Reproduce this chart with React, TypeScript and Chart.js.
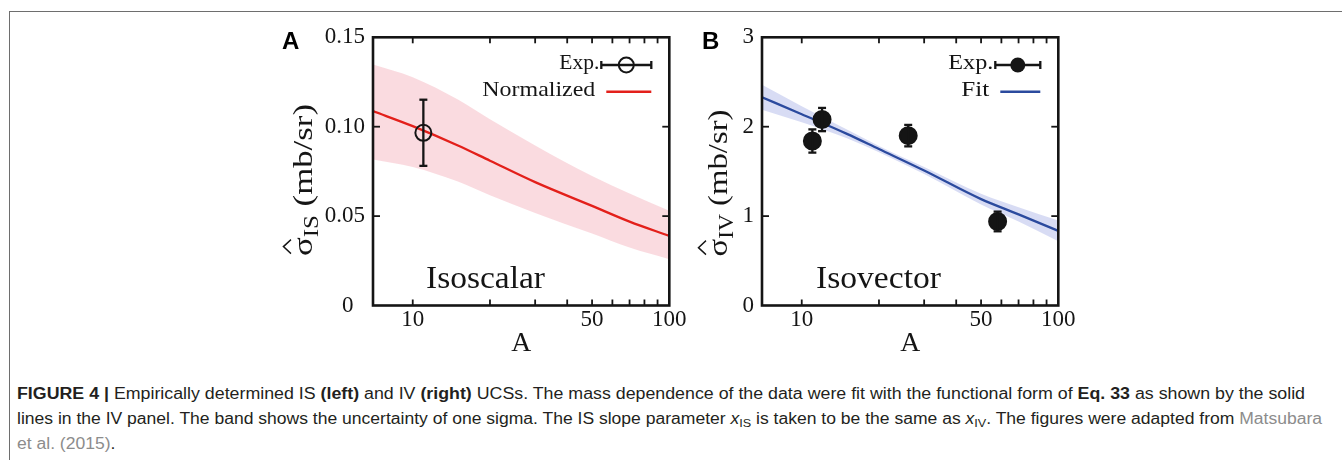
import React, { useEffect, useRef } from 'react';
import { Chart, registerables } from 'chart.js';

Chart.register(...registerables);

// ---------- shared axis data ----------
const A_MIN = 7;
const A_MAX = 100;
const xTickValues = [10, 20, 30, 40, 50, 60, 70, 80, 90, 100];
const xTickLabels = ['10', '', '', '', '50', '', '', '', '', '100'];

// ---------- Panel A : isoscalar ----------
const isExpA = [11];
const isExpValue = [0.0966];
const isExpError = [0.0185];
const isCurveA = [7, 10, 15, 20, 30, 50, 70, 100];
const isCurveValue = [0.1087, 0.1003, 0.0895, 0.081, 0.069, 0.0557, 0.0469, 0.0389];
const isBandUpper = [0.1348, 0.1277, 0.1152, 0.1042, 0.0895, 0.0724, 0.0627, 0.053];
const isBandLower = [0.0817, 0.0775, 0.0693, 0.0616, 0.0518, 0.0402, 0.0324, 0.0259];
const isYTicks = [0, 0.05, 0.1, 0.15];
const isYTickLabels = ['0\u2002', '0.05', '0.10', '0.15'];

// ---------- Panel B : isovector ----------
const ivExpA = [11, 12, 26, 58];
const ivExpValue = [1.84, 2.08, 1.9, 0.94];
const ivExpError = [0.13, 0.13, 0.12, 0.11];
const ivCurveA = [7, 10, 15, 20, 30, 50, 70, 100];
const ivCurveValue = [2.33, 2.14, 1.92, 1.75, 1.51, 1.19, 1.02, 0.835];
const ivBandUpper = [2.47, 2.23, 1.97, 1.785, 1.55, 1.25, 1.1, 0.95];
const ivBandLower = [2.19, 2.05, 1.87, 1.715, 1.47, 1.13, 0.94, 0.72];
const ivYTicks = [0, 1, 2, 3];
const ivYTickLabels = ['0', '1', '2', '3'];

const SERIF = "'Liberation Serif', 'Times New Roman', serif";
const SANS = "'Liberation Sans', Arial, Helvetica, sans-serif";
const INK = '#151515';

const panelA = {
  letter: 'A', letterX: 19, letterY: 35,
  label: 'Isoscalar', labelX: 163, labelY: 274, labelWidth: 119,
  ySub: 'IS', yTitleX: 49, yTitleY: 166, yTitleLength: 152,
  yMax: 0.15, yTicks: isYTicks, yTickLabels: isYTickLabels,
  expA: isExpA, expValue: isExpValue, expError: isExpError,
  curveA: isCurveA, curveValue: isCurveValue, bandUpper: isBandUpper, bandLower: isBandLower,
  filled: false, pointRadius: 8,
  lineColor: '#e3201b', bandColor: 'rgba(244, 176, 186, 0.45)',
  legendExp: 'Exp.', legendExpWidth: 40, legendLine: 'Normalized', legendLineWidth: 113, legendSymbol: 50,
};

const panelB = {
  letter: 'B', letterX: 50, letterY: 35,
  label: 'Isovector', labelX: 164, labelY: 274, labelWidth: 125,
  ySub: 'IV', yTitleX: 75, yTitleY: 169, yTitleLength: 147,
  yMax: 3, yTicks: ivYTicks, yTickLabels: ivYTickLabels,
  expA: ivExpA, expValue: ivExpValue, expError: ivExpError,
  curveA: ivCurveA, curveValue: ivCurveValue, bandUpper: ivBandUpper, bandLower: ivBandLower,
  filled: true, pointRadius: 8.5,
  lineColor: '#2b4a9e', bandColor: 'rgba(190, 196, 236, 0.6)',
  legendExp: 'Exp.', legendExpWidth: 45, legendLine: 'Fit', legendLineWidth: 28, legendSymbol: 45,
};

function drawFit(ctx: any, text: string, x: number, y: number, font: string, align: string, target?: number) {
  ctx.save();
  ctx.font = font;
  const w = ctx.measureText(text).width;
  const sx = target ? target / w : 1;
  ctx.translate(x, y);
  ctx.scale(sx, 1);
  ctx.textAlign = align;
  ctx.textBaseline = 'alphabetic';
  ctx.fillStyle = INK;
  ctx.fillText(text, 0, 0);
  ctx.restore();
}

function line(ctx: any, x1: number, y1: number, x2: number, y2: number) {
  ctx.beginPath();
  ctx.moveTo(x1, y1);
  ctx.lineTo(x2, y2);
  ctx.stroke();
}

function makePlugin(spec: any) {
  return {
    id: 'panelDecor',
    afterDatasetsDraw(chart: any) {
      const { ctx } = chart;
      const xs = chart.scales.x;
      const ys = chart.scales.y;
      ctx.save();
      ctx.strokeStyle = INK;
      ctx.lineWidth = 2.3;
      spec.expA.forEach((a: number, i: number) => {
        const px = xs.getPixelForValue(a);
        const top = ys.getPixelForValue(spec.expValue[i] + spec.expError[i]);
        const bot = ys.getPixelForValue(spec.expValue[i] - spec.expError[i]);
        line(ctx, px, top, px, bot);
        line(ctx, px - 4, top, px + 4, top);
        line(ctx, px - 4, bot, px + 4, bot);
      });
      ctx.restore();
    },
    afterDraw(chart: any) {
      const { ctx, chartArea } = chart;
      const { left: L, right: R, top: T, bottom: B } = chartArea;
      const xs = chart.scales.x;
      const ys = chart.scales.y;
      ctx.save();
      // inward ticks (mirrored)
      ctx.strokeStyle = INK;
      ctx.lineWidth = 1.8;
      xTickValues.forEach((v) => {
        const px = xs.getPixelForValue(v);
        if (px > L + 2 && px < R - 2) {
          line(ctx, px, B, px, B - 6);
          line(ctx, px, T, px, T + 6);
        }
      });
      spec.yTicks.forEach((v: number) => {
        const py = ys.getPixelForValue(v);
        if (py > T + 2 && py < B - 2) {
          line(ctx, L, py, L + 7, py);
          line(ctx, R, py, R - 7, py);
        }
      });
      // frame
      ctx.lineWidth = 2.6;
      ctx.strokeRect(L, T, R - L, B - T);

      // panel letter
      ctx.fillStyle = '#000';
      ctx.font = `bold 24px ${SANS}`;
      ctx.textAlign = 'left';
      ctx.textBaseline = 'alphabetic';
      ctx.fillText(spec.letter, spec.letterX, spec.letterY);

      // in-plot label
      drawFit(ctx, spec.label, spec.labelX, spec.labelY, `32px ${SERIF}`, 'left', spec.labelWidth);

      // x title
      drawFit(ctx, 'A', (L + R) / 2, 337, `27px ${SERIF}`, 'center', 20);

      // y title: hat-sigma with subscript
      const F = 28;
      const mainFont = `${F}px ${SERIF}`;
      const subFont = `${Math.round(F * 0.7)}px ${SERIF}`;
      ctx.font = mainFont;
      const wS = ctx.measureText('σ').width;
      const wR = ctx.measureText(' (mb/sr)').width;
      ctx.font = subFont;
      const wSub = ctx.measureText(spec.ySub).width;
      const total = wS + wSub + wR;
      const sx = spec.yTitleLength / total;
      ctx.save();
      ctx.translate(spec.yTitleX, spec.yTitleY);
      ctx.rotate(-Math.PI / 2);
      ctx.scale(sx, 1);
      const x0 = -total / 2;
      ctx.fillStyle = INK;
      ctx.textAlign = 'left';
      ctx.textBaseline = 'alphabetic';
      ctx.font = mainFont;
      ctx.fillText('σ', x0, 0);
      ctx.font = subFont;
      ctx.fillText(spec.ySub, x0 + wS, F * 0.2);
      ctx.font = mainFont;
      ctx.fillText(' (mb/sr)', x0 + wS + wSub, 0);
      const cx = x0 + wS / 2;
      const hw = 7 / sx;
      ctx.strokeStyle = INK;
      ctx.lineWidth = 1.4;
      ctx.beginPath();
      ctx.moveTo(cx - hw, -21);
      ctx.lineTo(cx, -28.5);
      ctx.lineTo(cx + hw, -21);
      ctx.stroke();
      ctx.restore();

      // legend
      const sx1 = R - 18;
      const sx0 = sx1 - spec.legendSymbol;
      const r1 = T + 27.7;
      const r2 = T + 54.4;
      drawFit(ctx, spec.legendExp, sx0 - 2, r1 + 3.5, `22px ${SERIF}`, 'right', spec.legendExpWidth);
      drawFit(ctx, spec.legendLine, sx0 - 6, r2 + 4.5, `22px ${SERIF}`, 'right', spec.legendLineWidth);
      ctx.strokeStyle = INK;
      ctx.lineWidth = 2.3;
      line(ctx, sx0, r1, sx1, r1);
      line(ctx, sx0, r1 - 4, sx0, r1 + 4);
      line(ctx, sx1, r1 - 4, sx1, r1 + 4);
      const mx = (sx0 + sx1) / 2;
      ctx.beginPath();
      ctx.arc(mx, r1, 7.5, 0, Math.PI * 2);
      if (spec.filled) {
        ctx.fillStyle = INK;
        ctx.fill();
      } else {
        ctx.lineWidth = 2;
        ctx.stroke();
      }
      ctx.strokeStyle = spec.lineColor;
      ctx.lineWidth = 2.6;
      line(ctx, sx0 + 5, r2, sx1, r2);
      ctx.restore();
    },
  };
}

function makeConfig(spec: any) {
  const pts = (xsArr: number[], ysArr: number[]) => xsArr.map((x, i) => ({ x, y: ysArr[i] }));
  return {
    type: 'scatter',
    data: {
      datasets: [
        {
          label: 'Exp.',
          data: pts(spec.expA, spec.expValue),
          showLine: false,
          pointRadius: spec.pointRadius,
          pointHoverRadius: spec.pointRadius,
          pointBorderWidth: 2,
          pointBorderColor: INK,
          pointBackgroundColor: spec.filled ? INK : 'rgba(0,0,0,0)',
          order: 0,
        },
        {
          label: spec.legendLine,
          data: pts(spec.curveA, spec.curveValue),
          showLine: true,
          borderColor: spec.lineColor,
          borderWidth: 2.3,
          pointRadius: 0,
          fill: false,
          cubicInterpolationMode: 'monotone',
          order: 1,
        },
        {
          label: 'band upper',
          data: pts(spec.curveA, spec.bandUpper),
          showLine: true,
          borderColor: 'rgba(0,0,0,0)',
          borderWidth: 0,
          backgroundColor: spec.bandColor,
          pointRadius: 0,
          fill: '+1',
          cubicInterpolationMode: 'monotone',
          order: 2,
        },
        {
          label: 'band lower',
          data: pts(spec.curveA, spec.bandLower),
          showLine: true,
          borderColor: 'rgba(0,0,0,0)',
          borderWidth: 0,
          pointRadius: 0,
          fill: false,
          cubicInterpolationMode: 'monotone',
          order: 3,
        },
      ],
    },
    options: {
      responsive: false,
      animation: false,
      events: [],
      layout: { padding: { top: 23.3, right: 33.7, bottom: 0, left: 0 } },
      plugins: {
        legend: { display: false },
        tooltip: { enabled: false },
        title: { display: false },
      },
      scales: {
        x: {
          type: 'logarithmic',
          min: A_MIN,
          max: A_MAX,
          afterBuildTicks: (s: any) => {
            s.ticks = xTickValues.map((v) => ({ value: v }));
          },
          ticks: {
            autoSkip: false,
            maxRotation: 0,
            minRotation: 0,
            padding: 1,
            color: INK,
            font: { family: SERIF, size: 23 },
            callback: (_v: any, i: number) => xTickLabels[i],
          },
          grid: { display: false, drawTicks: false },
          border: { display: false },
          afterFit: (s: any) => {
            s.height = 64.5;
            s.paddingLeft = 0;
            s.paddingRight = 0;
          },
        },
        y: {
          type: 'linear',
          min: 0,
          max: spec.yMax,
          afterBuildTicks: (s: any) => {
            s.ticks = spec.yTicks.map((v: number) => ({ value: v }));
          },
          ticks: {
            padding: 8,
            color: INK,
            font: { family: SERIF, size: 23 },
            callback: (_v: any, i: number) => spec.yTickLabels[i],
          },
          grid: { display: false, drawTicks: false },
          border: { display: false },
          afterFit: (s: any) => {
            s.width = 110;
            s.paddingTop = 0;
            s.paddingBottom = 0;
          },
        },
      },
    },
    plugins: [makePlugin(spec)],
  };
}

function Panel({ spec, left }: { spec: any; left: number }) {
  const ref = useRef<HTMLCanvasElement | null>(null);
  useEffect(() => {
    if (!ref.current) return;
    const chart = new Chart(ref.current, makeConfig(spec) as any);
    return () => chart.destroy();
  }, [spec]);
  return (
    <canvas
      ref={ref}
      width={440}
      height={356}
      style={{ position: 'absolute', left, top: 14, width: 440, height: 356 }}
    />
  );
}

const GRAY = '#8c8c8c';
const sub: React.CSSProperties = { fontSize: '0.72em', position: 'relative', top: '0.3em' };

export default function App() {
  const l1 = useRef<HTMLDivElement | null>(null);
  const l2 = useRef<HTMLDivElement | null>(null);
  const l3 = useRef<HTMLDivElement | null>(null);

  useEffect(() => {
    const fit = (el: HTMLDivElement | null, target: number) => {
      if (!el) return 1;
      el.style.transform = 'none';
      const w = el.getBoundingClientRect().width;
      const s = target / w;
      el.style.transform = `scaleX(${s})`;
      return s;
    };
    fit(l1.current, 1288);
    const s2 = fit(l2.current, 1305);
    if (l3.current) l3.current.style.transform = `scaleX(${s2})`;
  }, []);

  const lineStyle = (top: number): React.CSSProperties => ({
    position: 'absolute',
    left: 17,
    top,
    whiteSpace: 'nowrap',
    fontFamily: SANS,
    fontSize: 16,
    lineHeight: '20px',
    color: '#231f20',
    transformOrigin: '0 0',
  });

  return (
    <div
      style={{
        position: 'absolute',
        left: 0,
        top: 0,
        width: 1342,
        height: 460,
        background: '#fff',
        overflow: 'hidden',
      }}
    >
      <div
        style={{
          position: 'absolute',
          left: 9,
          top: 11,
          width: 1340,
          height: 460,
          borderTop: '1px solid #6e6e6e',
          borderLeft: '1px solid #6e6e6e',
        }}
      />
      <Panel spec={panelA} left={263} />
      <Panel spec={panelB} left={652} />
      <div ref={l1} style={lineStyle(384)}>
        <b>FIGURE 4 |</b> Empirically determined IS <b>(left)</b> and IV <b>(right)</b> UCSs. The mass
        dependence of the data were fit with the functional form of <b>Eq. 33</b> as shown by the solid
      </div>
      <div ref={l2} style={lineStyle(409)}>
        lines in the IV panel. The band shows the uncertainty of one sigma. The IS slope parameter{' '}
        <i>x</i>
        <span style={sub}>IS</span> is taken to be the same as <i>x</i>
        <span style={sub}>IV</span>. The figures were adapted from{' '}
        <span style={{ color: GRAY }}>Matsubara</span>
      </div>
      <div ref={l3} style={lineStyle(434)}>
        <span style={{ color: GRAY }}>et al. (2015)</span>.
      </div>
    </div>
  );
}
